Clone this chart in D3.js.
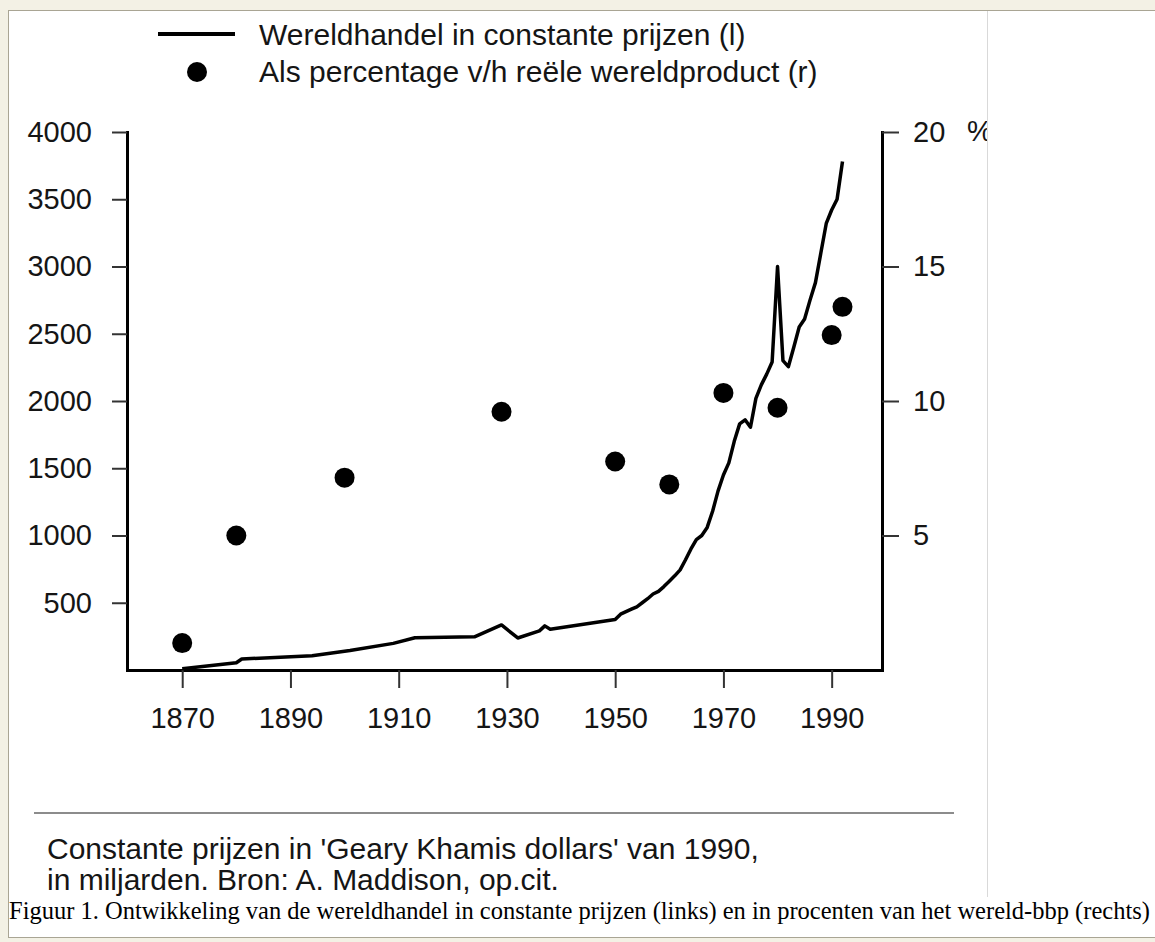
<!DOCTYPE html>
<html>
<head>
<meta charset="utf-8">
<script src="https://cdn.jsdelivr.net/npm/d3@7"></script>
<style>
  body { margin: 0; background: #f3f1e5; }
  svg { display: block; }
</style>
</head>
<body>
<svg id="chart" width="1155" height="942"></svg>
<script>
// world trade, constant prices (left axis, billions 1990 GK dollars)
const tradeYears = [1870, 1880, 1881, 1894, 1901, 1909, 1913, 1924, 1929, 1932, 1936, 1937, 1938,
  1950, 1951, 1953, 1954, 1955, 1956, 1957, 1958, 1959, 1960, 1961, 1962, 1963, 1964, 1965, 1966,
  1967, 1968, 1969, 1970, 1971, 1972, 1973, 1974, 1975, 1976, 1977, 1978, 1979, 1980, 1981, 1982,
  1983, 1984, 1985, 1986, 1987, 1988, 1989, 1990, 1991, 1992];
const tradeValues = [10, 54, 82, 106, 145, 198, 240, 247, 335, 238, 291, 328, 303,
  375, 415, 452, 470, 500, 530, 565, 585, 620, 660, 700, 745, 820, 900, 970, 1000,
  1060, 1180, 1330, 1450, 1540, 1700, 1830, 1860, 1805, 2020, 2120, 2200, 2290, 3000, 2300, 2255,
  2400, 2550, 2610, 2750, 2880, 3100, 3320, 3420, 3500, 3780];

// trade as percentage of real world product (right axis)
const shareYears = [1870, 1880, 1900, 1929, 1950, 1960, 1970, 1980, 1990, 1992];
const shareValues = [1.0, 5.0, 7.15, 9.6, 7.75, 6.9, 10.3, 9.75, 12.45, 13.5];

const yearTicks = [1870, 1890, 1910, 1930, 1950, 1970, 1990];
const leftTicks = [500, 1000, 1500, 2000, 2500, 3000, 3500, 4000];
const rightTicks = [5, 10, 15, 20];

const legendLabels = ["Wereldhandel in constante prijzen (l)", "Als percentage v/h reële wereldproduct (r)"];
const noteLines = ["Constante prijzen in 'Geary Khamis dollars' van 1990,", "in miljarden. Bron: A. Maddison, op.cit."];
const caption = "Figuur 1. Ontwikkeling van de wereldhandel in constante prijzen (links) en in procenten van het wereld-bbp (rechts)";

const sans = "'Liberation Sans', Arial, Helvetica, sans-serif";
const serif = "'Liberation Serif', 'Times New Roman', serif";

const svg = d3.select("#chart");

// page frame
svg.append("rect")
  .attr("x", 8.5).attr("y", 10.5)
  .attr("width", 1150).attr("height", 927)
  .attr("fill", "#fff")
  .attr("stroke", "#a9a594");

svg.append("clipPath").attr("id", "imgclip")
  .append("rect").attr("x", 9).attr("y", 11).attr("width", 978).attr("height", 886);

const g = svg.append("g").attr("clip-path", "url(#imgclip)");

const x = d3.scaleLinear().domain([1859.8, 1999.3]).range([127, 882]);
const y = d3.scaleLinear().domain([0, 4000]).range([670, 132]);
const yR = d3.scaleLinear().domain([0, 20]).range([670, 132]);

function styleAxis(sel) {
  sel.attr("font-size", 29).attr("font-family", sans);
  sel.select(".domain").attr("stroke", "#000").attr("stroke-width", 3).attr("stroke-linecap", "square");
  sel.selectAll(".tick line").attr("stroke", "#333").attr("stroke-width", 2);
  sel.selectAll(".tick text").attr("fill", "#151515");
}

g.append("g")
  .attr("transform", "translate(0,670)")
  .call(d3.axisBottom(x).tickValues(yearTicks).tickFormat(d3.format("d"))
    .tickSize(18).tickPadding(19).tickSizeOuter(0))
  .call(styleAxis);

g.append("g")
  .attr("transform", "translate(127,0)")
  .call(d3.axisLeft(y).tickValues(leftTicks).tickFormat(d3.format("d"))
    .tickSize(15).tickPadding(20).tickSizeOuter(0))
  .call(styleAxis);

g.append("g")
  .attr("transform", "translate(882,0)")
  .call(d3.axisRight(yR).tickValues(rightTicks).tickFormat(d3.format("d"))
    .tickSize(17).tickPadding(14).tickSizeOuter(0))
  .call(styleAxis);

g.append("text")
  .attr("x", 967).attr("y", yR(20)).attr("dy", "0.32em")
  .attr("font-family", sans).attr("font-size", 29).attr("fill", "#151515")
  .text("%");

// trade line
const tradeData = tradeYears.map((yr, i) => ({ year: yr, value: tradeValues[i] }));
g.append("path")
  .datum(tradeData)
  .attr("fill", "none")
  .attr("stroke", "#000")
  .attr("stroke-width", 3.5)
  .attr("stroke-linejoin", "round")
  .attr("d", d3.line().x(d => x(d.year)).y(d => y(d.value)));

// percentage dots
g.selectAll(".dot")
  .data(shareYears.map((yr, i) => ({ year: yr, value: shareValues[i] })))
  .enter()
  .append("circle")
  .attr("class", "dot")
  .attr("cx", d => x(d.year))
  .attr("cy", d => yR(d.value))
  .attr("r", 10)
  .attr("fill", "#000");

// legend
g.append("line")
  .attr("x1", 158).attr("x2", 235).attr("y1", 34).attr("y2", 34)
  .attr("stroke", "#000").attr("stroke-width", 4);
g.append("circle").attr("cx", 197).attr("cy", 72).attr("r", 10).attr("fill", "#000");
g.selectAll(".legend-label")
  .data(legendLabels)
  .enter()
  .append("text")
  .attr("class", "legend-label")
  .attr("x", 259)
  .attr("y", (d, i) => 45 + i * 37)
  .attr("font-family", sans).attr("font-size", 30).attr("fill", "#151515")
  .text(d => d);

// source note
g.append("line")
  .attr("x1", 34).attr("x2", 954).attr("y1", 813).attr("y2", 813)
  .attr("stroke", "#8c8c8c").attr("stroke-width", 2);
g.selectAll(".note")
  .data(noteLines)
  .enter()
  .append("text")
  .attr("class", "note")
  .attr("x", 47)
  .attr("y", (d, i) => 859 + i * 31)
  .attr("font-family", sans).attr("font-size", 30).attr("fill", "#151515")
  .text(d => d);

// right edge of the embedded picture
svg.append("line")
  .attr("x1", 987.5).attr("x2", 987.5).attr("y1", 11).attr("y2", 897)
  .attr("stroke", "#d9d9d9").attr("stroke-width", 1);

svg.append("text")
  .attr("x", 9).attr("y", 919)
  .attr("font-family", serif).attr("font-size", 24.5).attr("fill", "#000")
  .text(caption);
</script>
</body>
</html>
